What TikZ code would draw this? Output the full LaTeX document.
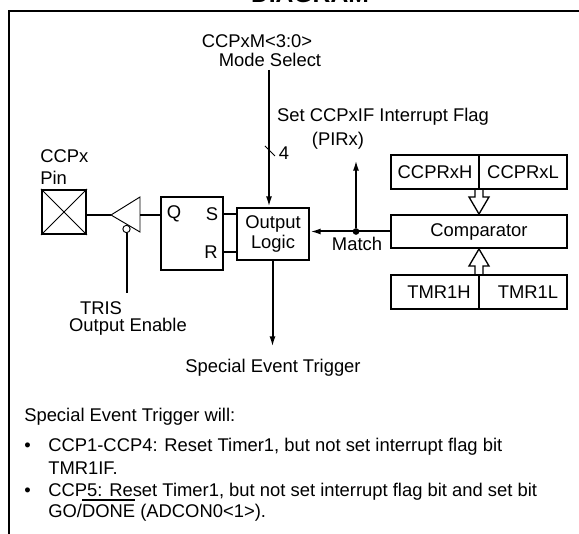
\documentclass[tikz,border=0pt]{standalone}
\usepackage{fontspec}
\setmainfont{Liberation Sans}
\usetikzlibrary{arrows.meta}
\begin{document}
\begin{tikzpicture}[x=0.75pt,y=-0.75pt,>={Latex[length=8pt,width=4.5pt]},
        every node/.style={font=\fontsize{13.8}{15.5}\selectfont,inner sep=0pt},
        wire/.style={line width=1.5pt},
        thinwire/.style={line width=0.7pt},
        box/.style={draw,line width=1.5pt},
        dot/.style={circle,fill=black,minimum size=5pt,inner sep=0pt}]
\useasboundingbox (0,0) rectangle (579,534);

% frame and title
\node[font=\fontsize{18.5}{20}\selectfont\bfseries,anchor=base] (title) at (310,3) {DIAGRAM};
\draw[line width=1.5pt] (9,534) -- (9,11) -- (579,11);

% pin and buffer
\node[anchor=west] (ccpx) at (40,156) {CCPx};
\node[anchor=west] (pinlabel) at (40,178) {Pin};
\node[box,minimum width=33pt,minimum height=33pt] (pin) at (64,212) {};
\draw[thinwire] (pin.north west) -- (pin.south east);
\draw[thinwire] (pin.north east) -- (pin.south west);
\coordinate (buftip) at (111,215);
\coordinate (bufback) at (140,215);
\draw[thinwire] (buftip) -- (140,197) -- (140,232) -- cycle;
\draw[wire] (pin.east |- buftip) -- (buftip);
\node[circle,draw,thinwire,fill=white,minimum size=5.5pt] (bubble) at (126.5,229) {};
\coordinate (trisend) at (126.5,293);
\draw[wire] (bubble.south) -- (trisend);
\node (tris) at (101,308) {TRIS};
\node (oe) at (128,327) {Output Enable};

% latch
\node[box,minimum width=46.5pt,minimum height=55pt] (latch) at (192,233.5) {};
\node (q) at (174,214) {Q};
\node (s) at (212,214) {S};
\node (r) at (211,252) {R};
\draw[wire] (bufback) -- (latch.west |- bufback);

% output logic
\node[box,align=center,minimum width=54pt,minimum height=39pt] (logic) at (273,234) {Output\\Logic};
\draw[wire] (latch.east |- s) -- (logic.west |- s);
\draw[wire] (latch.east |- r) -- (logic.west |- r);

% mode select
\node (ccpxm) at (257,41) {CCPxM<3:0>};
\node (mode) at (270,60) {Mode Select};
\coordinate (modestart) at (269,70);
\draw[wire,->] (modestart) -- (logic.north -| modestart);
\coordinate (busmark) at (270,151);
\draw[thinwire] (busmark) ++(-5,-5) -- ++(10,10);
\node (four) at (284,153) {4};

% interrupt flag
\node (flag) at (383,117) {Set CCPxIF Interrupt Flag};
\node (pirx) at (338,141) {(PIRx)};

% compare registers
\node[box,minimum width=66pt,minimum height=25.5pt] (ccprxh) at (435,172) {CCPRxH};
\node[box,minimum width=66pt,minimum height=25.5pt] (ccprxl) at (523,172) {CCPRxL};
\node[box,minimum width=132pt,minimum height=25pt] (comparator) at (479,231.5) {Comparator};
\node[box,minimum width=66pt,minimum height=25.5pt] (tmrh) at (435,292) {};
\node[box,minimum width=66pt,minimum height=25.5pt] (tmrl) at (523,292) {};
\node (tmrhtext) at (439,292) {TMR1H};
\node (tmrltext) at (528,292) {TMR1L};

% hollow arrows
\draw[wire,line width=1pt] (475,190) -- (475,197) -- (469,197) -- (479,214) -- (489,197) -- (483,197) -- (483,190);
\draw[wire,line width=1pt] (475,274) -- (475,266) -- (469,266) -- (479,249) -- (489,266) -- (483,266) -- (483,274);

% match
\node[dot] (matchdot) at (356,231.5) {};
\node (match) at (357,244) {Match};
\coordinate (flagend) at (356,160);
\draw[wire,->] (comparator.west) -- (logic.east |- comparator.west);
\draw[wire,->] (matchdot) -- (flagend);

% special event trigger
\coordinate (trigend) at (272.5,347);
\draw[wire,->] (logic.south -| trigend) -- (trigend);
\node (trigger) at (273,368) {Special Event Trigger};

% notes
\node[anchor=west] (note) at (24,417) {Special Event Trigger will:};
\node (bulleta) at (27.5,447) {•};
\node[anchor=west] (notea) at (48,447) {CCP1-CCP4: Reset Timer1, but not set interrupt flag bit};
\node[anchor=west] (noteb) at (48,468) {TMR1IF.};
\node (bulletb) at (27.5,492) {•};
\node[anchor=west] (notec) at (48,492) {CCP5: Reset Timer1, but not set interrupt flag bit and set bit};
\node[anchor=west] (noted) at (48,513) {GO/DONE (ADCON0<1>).};
\draw[line width=1pt] (82,500) -- (135,500);
\end{tikzpicture}
\end{document}
